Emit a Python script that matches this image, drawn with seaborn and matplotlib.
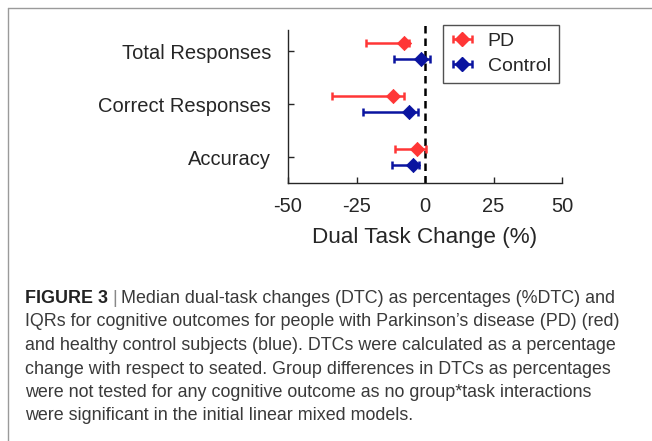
import matplotlib
matplotlib.use("Agg")
import matplotlib.pyplot as plt
import seaborn as sns
import pandas as pd
import numpy as np

# Median dual-task change (%) and IQR limits
outcomes = ["Total Responses", "Correct Responses", "Accuracy"]
groups = ["PD", "Control"]
pd_median = [-7.7, -11.6, -3.0]
pd_q1 = [-21.6, -34.0, -10.8]
pd_q3 = [-6.0, -7.7, 0.3]
ctrl_median = [-1.6, -5.8, -4.4]
ctrl_q1 = [-11.3, -22.5, -12.0]
ctrl_q3 = [1.8, -2.7, -2.3]
xticks = [-50, -25, 0, 25, 50]

caption = [
    "Median dual-task changes (DTC) as percentages (%DTC) and",
    "IQRs for cognitive outcomes for people with Parkinson\u2019s disease (PD) (red)",
    "and healthy control subjects (blue). DTCs were calculated as a percentage",
    "change with respect to seated. Group differences in DTCs as percentages",
    "were not tested for any cognitive outcome as no group*task interactions",
    "were significant in the initial linear mixed models.",
]

df = pd.DataFrame({
    "outcome": outcomes * 2,
    "group": ["PD"] * 3 + ["Control"] * 3,
    "median": pd_median + ctrl_median,
    "q1": pd_q1 + ctrl_q1,
    "q3": pd_q3 + ctrl_q3,
})

sns.set_style("ticks")
plt.rcParams["font.family"] = ["Liberation Sans", "DejaVu Sans"]

W, H = 652, 441
fig = plt.figure(figsize=(W / 100, H / 100), dpi=100)
ax = fig.add_axes([288 / W, 1 - 183 / H, (562 - 288) / W, (183 - 30) / H])

colors = {"PD": "#ff3636", "Control": "#0a14a0"}
offsets = {"PD": -0.15, "Control": 0.15}

for g in groups:
    sub = df[df["group"] == g]
    y = np.arange(len(outcomes)) + offsets[g]
    xerr = [sub["median"] - sub["q1"], sub["q3"] - sub["median"]]
    ax.errorbar(sub["median"], y, xerr=xerr, fmt="none", ecolor=colors[g],
                elinewidth=1.8, capsize=2.6, capthick=1.8, zorder=3)
    sns.scatterplot(x=sub["median"].values, y=y, ax=ax, marker="D", s=52,
                    color=colors[g], edgecolor=colors[g], linewidth=0.6,
                    zorder=4, legend=False)

# legend handles like the original (diamond with caps)
handles = []
for g in groups:
    h = ax.errorbar([np.nan], [np.nan], xerr=[[1], [1]], fmt="D", color=colors[g],
                    markersize=7, elinewidth=1.8, capsize=2.6, capthick=1.8)
    handles.append(h)

ax.axvline(0, color="black", linestyle=(0, (3, 2)), linewidth=1.8,
           ymin=0, ymax=1.045, clip_on=False, zorder=2)

ax.set_xlim(-50, 50)
ax.set_ylim(len(outcomes) - 0.51, -0.4)
ax.set_xticks(xticks)
ax.set_xticklabels([str(t) for t in xticks])
ax.set_yticks(range(len(outcomes)))
ax.set_yticklabels(outcomes)
ax.tick_params(direction="in", length=4, width=1, labelsize=14.5,
               colors="#262626")
ax.tick_params(axis="x", pad=10)
ax.tick_params(axis="y", pad=12)
ax.set_xlabel("Dual Task Change (%)", fontsize=16.2, color="#262626", labelpad=8)
sns.despine(ax=ax)
for s in ["left", "bottom"]:
    ax.spines[s].set_color("#262626")
    ax.spines[s].set_linewidth(1.0)

leg = ax.legend(handles, groups, loc="upper left", bbox_to_anchor=(155 / 274, 1.035),
                fontsize=14, frameon=True, fancybox=False, edgecolor="#262626",
                handlelength=1.2, handletextpad=0.7, borderpad=0.4,
                labelspacing=0.38, borderaxespad=0)
leg.get_frame().set_linewidth(1.0)

# caption frame lines
fig.add_artist(plt.Line2D([8 / W, 1], [1 - 8 / H, 1 - 8 / H], color="#9a9a9a",
                          linewidth=1.0, transform=fig.transFigure))
fig.add_artist(plt.Line2D([8 / W, 8 / W], [0, 1 - 8 / H], color="#9a9a9a",
                          linewidth=1.0, transform=fig.transFigure))

# caption text
cap_color = "#3a3a3a"
cap_size = 12.9
x0 = 25
baselines = [303, 326.5, 350, 373.5, 397, 420.5]
renderer = fig.canvas.get_renderer()
t1 = fig.text(x0 / W, 1 - baselines[0] / H, "FIGURE 3", fontsize=cap_size,
              fontweight="bold", color="#222222", va="baseline")
bb = t1.get_window_extent(renderer)
t2 = fig.text(bb.x1 / W + 4 / W, 1 - baselines[0] / H, "|", fontsize=cap_size,
              color="#888888", va="baseline")
bb2 = t2.get_window_extent(renderer)
fig.text(bb2.x1 / W + 4 / W, 1 - baselines[0] / H, caption[0], fontsize=cap_size,
         color=cap_color, va="baseline")
for line, yb in zip(caption[1:], baselines[1:]):
    fig.text(x0 / W, 1 - yb / H, line, fontsize=cap_size, color=cap_color,
             va="baseline")

fig.savefig("out.png", dpi=100)
